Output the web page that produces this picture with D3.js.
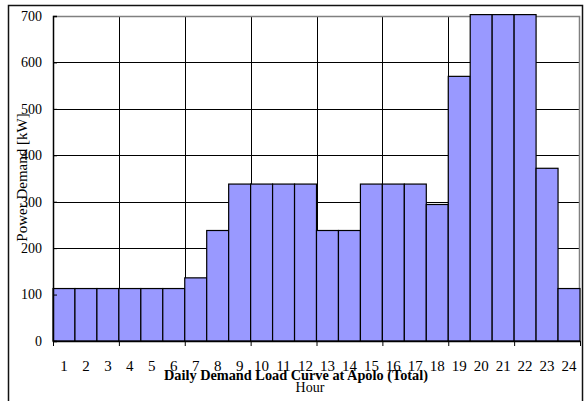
<!DOCTYPE html>
<html>
<head>
<meta charset="utf-8">
<script src="https://cdn.jsdelivr.net/npm/d3@7"></script>
<style>
  body { margin: 0; background: #fff; }
  text { font-family: "Liberation Serif", "Times New Roman", serif; fill: #000; }
</style>
</head>
<body>
<svg id="chart" width="585" height="401"></svg>
<script>
// hourly demand, kW (hours 1..24)
var hours = d3.range(1, 25)
var demand = [113, 113, 113, 113, 113, 113, 136, 238, 338, 338, 338, 338,
    238, 238, 338, 338, 338, 294, 570, 703, 703, 703, 372, 113]
var yTicks = [0, 100, 200, 300, 400, 500, 600, 700]
var xGrid = [0, 3, 6, 9, 12, 15, 18, 21, 24]

var svg = d3.select("#chart"),
    margin = {
        top: 16,
        right: 5,
        bottom: 60,
        left: 53
    },
    width = +svg.attr("width") - margin.left - margin.right,
    height = +svg.attr("height") - margin.top - margin.bottom

// outer frame (bottom edge runs off the picture)
svg.append("rect")
    .attr("x", 8.5)
    .attr("y", 5.5)
    .attr("width", 574)
    .attr("height", 410)
    .attr("fill", "none")
    .attr("stroke", "#111")
    .attr("stroke-width", 1.5)

var x = d3.scaleLinear().domain([0, 24]).range([0, width])
var y = d3.scaleLinear().domain([0, 700]).range([height, 0])

var g = svg.append("g")
    .attr("transform", "translate(" + margin.left + "," + margin.top + ")")

// grid
g.append("g").selectAll("line").data(yTicks.slice(1)).enter().append("line")
    .attr("x1", 0).attr("x2", width)
    .attr("y1", function (d) { return Math.round(y(d)) + 0.5 })
    .attr("y2", function (d) { return Math.round(y(d)) + 0.5 })
    .attr("stroke", "#000").attr("stroke-width", 1)
g.append("g").selectAll("line").data(xGrid.slice(1, -1)).enter().append("line")
    .attr("x1", function (d) { return Math.round(x(d)) + 0.5 })
    .attr("x2", function (d) { return Math.round(x(d)) + 0.5 })
    .attr("y1", 0).attr("y2", height)
    .attr("stroke", "#000").attr("stroke-width", 1)

// plot border top / right
g.append("path")
    .attr("d", "M0,0.5H" + (width - 0.5) + "V" + height)
    .attr("fill", "none")
    .attr("stroke", "#808080")
    .attr("stroke-width", 1.5)

// bars
g.append("g").selectAll("rect").data(demand).enter().append("rect")
    .attr("x", function (d, i) { return x(i) })
    .attr("y", function (d) { return y(d) })
    .attr("width", function (d, i) { return x(i + 1) - x(i) })
    .attr("height", function (d) { return height - y(d) })
    .attr("fill", "#9999ff")
    .attr("stroke", "#000")
    .attr("stroke-width", 1.2)

// y axis: ticks point inward
var yAxis = g.append("g")
    .call(d3.axisRight(y).tickValues(yTicks).tickSize(4).tickFormat(""))
yAxis.select(".domain").attr("stroke", "#000").attr("stroke-width", 1.5)
g.append("g").selectAll("text").data(yTicks).enter().append("text")
    .attr("x", -11)
    .attr("y", function (d) { return y(d) })
    .attr("dy", "0.35em")
    .attr("text-anchor", "end")
    .style("font-size", "14px")
    .text(function (d) { return d })

// x axis: ticks every 3 hours, labels centred on bars
var xAxis = g.append("g")
    .attr("transform", "translate(0," + height + ")")
    .call(d3.axisBottom(x).tickValues(xGrid).tickSize(5).tickSizeOuter(0).tickFormat(""))
xAxis.select(".domain").attr("stroke", "#000").attr("stroke-width", 1.5)
g.append("g").selectAll("text").data(hours).enter().append("text")
    .attr("x", function (d) { return x(d - 0.5) })
    .attr("y", height + 29.5)
    .attr("text-anchor", "middle")
    .style("font-size", "15px")
    .text(function (d) { return d })

// titles
svg.append("text")
    .attr("x", 296)
    .attr("y", 380)
    .attr("text-anchor", "middle")
    .style("font-size", "14.3px")
    .style("font-weight", "bold")
    .text("Daily Demand Load Curve at Apolo (Total)")
svg.append("text")
    .attr("x", 310)
    .attr("y", 392)
    .attr("text-anchor", "middle")
    .style("font-size", "14px")
    .text("Hour")
svg.append("text")
    .attr("transform", "translate(26.5," + (margin.top + height / 2 - 1) + ") rotate(-90)")
    .attr("text-anchor", "middle")
    .style("font-size", "15px")
    .text("Power Demand [kW]")
</script>
</body>
</html>
